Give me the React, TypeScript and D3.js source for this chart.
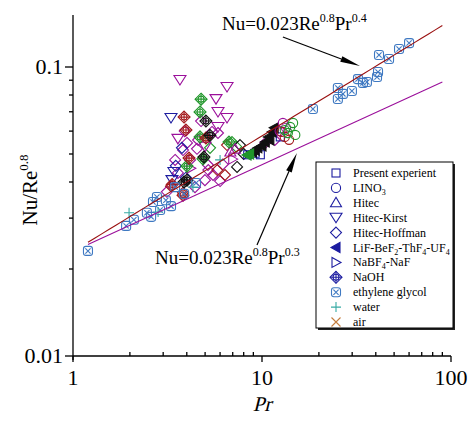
import React from "react";
import * as d3 from "d3";

// Pr, Nu/Re^0.8
const presentExp = [[8.4, 0.0497], [9.2, 0.0503], [9.8, 0.0497], [12.5, 0.0573]];
const lino3Green = [[14.6, 0.064], [13.7, 0.0591], [15.0, 0.0582], [14.1, 0.062], [13.2, 0.0605]];
const lino3Purple = [[12.9, 0.064], [13.4, 0.0616], [12.4, 0.06]];
const lino3Red = [[13.2, 0.0573], [12.7, 0.0596], [13.9, 0.056]];
const hitecPurple = [[6.8, 0.0508], [7.2, 0.052]];
const kirstPurple = [[3.68, 0.0902], [6.53, 0.0853], [5.71, 0.0774], [5.85, 0.0699], [6.53, 0.0666], [5.85, 0.062], [3.59, 0.0564], [5.0, 0.053]];
const kirstBlue = [[3.3, 0.0666], [3.42, 0.0433], [3.34, 0.0406]];
const hoffmanPurple = [
  [4.76, 0.065], [5.44, 0.0596], [5.85, 0.0591], [4.01, 0.0546], [4.53, 0.0521], [3.82, 0.0516],
  [3.59, 0.043], [3.14, 0.037], [4.99, 0.0406], [5.51, 0.0423], [4.42, 0.0384], [6.0, 0.0403],
  [4.16, 0.0477], [3.47, 0.0477], [5.18, 0.0458], [4.59, 0.0559], [10.4, 0.0546], [11.7, 0.0559],
  [5.2, 0.044], [6.2, 0.046], [3.9, 0.06],
];
const hoffmanBlue = [[3.77, 0.0525], [3.96, 0.0414], [3.5, 0.0455]];
const hoffmanBlack = [[7.65, 0.0537], [7.38, 0.0451], [8.0, 0.05]];
const hoffmanGreen = [[6.94, 0.055], [5.31, 0.0525], [7.3, 0.053]];
const hoffmanRed = [[3.3, 0.0387], [3.82, 0.0367], [6.37, 0.0423], [6.53, 0.0537], [5.8, 0.044]];
const lifBlack = [[8.9, 0.0508], [9.5, 0.0525], [10.0, 0.0533], [10.4, 0.055], [10.8, 0.0573], [11.3, 0.0596], [11.6, 0.0616], [11.0, 0.0559], [9.2, 0.0515]];
const lifGreen = [[8.33, 0.0496], [8.6, 0.05]];
const nabfPurple = [[4.2, 0.0446], [7.0, 0.048]];
const naohGreen = [[4.76, 0.0774], [4.7, 0.0699], [4.7, 0.0573], [4.01, 0.0454], [4.87, 0.0481], [6.69, 0.055]];
const naohRed = [[3.87, 0.0671], [3.96, 0.0605], [5.05, 0.0568], [4.11, 0.0484], [3.82, 0.036], [3.35, 0.0392]];
const naohBlack = [[5.05, 0.065], [4.93, 0.0488], [3.87, 0.04], [4.01, 0.0406], [5.3, 0.058]];
const ethyleneGlycol = [
  [1.2, 0.0231], [1.91, 0.0282], [2.1, 0.0296], [2.46, 0.0313], [2.59, 0.0303], [2.65, 0.0341],
  [2.78, 0.0355], [2.89, 0.032], [3.1, 0.0346], [3.3, 0.033], [3.47, 0.0384], [3.87, 0.0364],
  [4.48, 0.0397], [18.6, 0.0716], [25.2, 0.0846], [25.2, 0.0775], [26.8, 0.0807], [29.9, 0.0826],
  [32.2, 0.0908], [34.2, 0.0881], [35.9, 0.0887], [40.6, 0.0923], [41.1, 0.0961], [41.6, 0.11],
  [47.0, 0.1066], [53.1, 0.1154], [60.0, 0.121],
];
const water = [[1.98, 0.0313], [2.82, 0.0315], [4.31, 0.0384], [6.0, 0.0477]];

const legendLabels = [
  "Present experient", "LINO_3", "Hitec", "Hitec-Kirst", "Hitec-Hoffman", "LiF-BeF_2-ThF_4-UF_4",
  "NaBF_4-NaF", "NaOH", "ethylene glycol", "water", "air",
];
const legendShapes = ["square", "circle", "triUp", "triDown", "diamond", "triLeft", "triRight", "diamondCross", "circleX", "plus", "cross"];

const xMajor = [1, 10, 100];
const yMajor = [0.01, 0.1];
const xMinor = [2, 3, 4, 5, 6, 7, 8, 9, 20, 30, 40, 50, 60, 70, 80, 90];
const yMinor = [0.02, 0.03, 0.04, 0.05, 0.06, 0.07, 0.08, 0.09];
const corrPr = [1.2, 90];

const PURPLE = "#9b109b";
const GREEN = "#20962a";
const RED = "#a3191c";
const BLACK = "#111";
const NAVY = "#1c1ca0";
const LBLUE = "#3f79c2";
const TEAL = "#36aaa4";
const ORANGE = "#c47c3c";

const groups = [
  { data: hoffmanPurple, shape: "diamond", color: PURPLE },
  { data: hoffmanBlue, shape: "diamond", color: NAVY },
  { data: hoffmanRed, shape: "diamond", color: RED },
  { data: hoffmanGreen, shape: "diamond", color: GREEN },
  { data: hoffmanBlack, shape: "diamond", color: BLACK },
  { data: kirstPurple, shape: "triDown", color: PURPLE },
  { data: kirstBlue, shape: "triDown", color: NAVY },
  { data: hitecPurple, shape: "triUp", color: PURPLE },
  { data: nabfPurple, shape: "triRight", color: PURPLE },
  { data: naohGreen, shape: "diamondCross", color: GREEN },
  { data: naohRed, shape: "diamondCross", color: RED },
  { data: naohBlack, shape: "diamondCross", color: BLACK },
  { data: ethyleneGlycol, shape: "circleX", color: LBLUE },
  { data: water, shape: "plus", color: TEAL },
  { data: presentExp, shape: "square", color: NAVY },
  { data: lifBlack, shape: "triLeft", color: BLACK },
  { data: lifGreen, shape: "triLeft", color: GREEN },
  { data: lino3Purple, shape: "circle", color: PURPLE },
  { data: lino3Red, shape: "circle", color: RED },
  { data: lino3Green, shape: "circle", color: GREEN },
];

const FONT = "Liberation Serif";

function Marker({ shape, color, x, y }: { shape: string; color: string; x: number; y: number }) {
  const p = { stroke: color, strokeWidth: 1.1, fill: "none" };
  const t = `translate(${x},${y})`;
  switch (shape) {
    case "square":
      return <rect transform={t} x={-4} y={-4} width={8} height={8} {...p} />;
    case "circle":
      return <circle transform={t} r={4.6} {...p} />;
    case "triUp":
      return <polygon transform={t} points="0,-5.5 5.5,4 -5.5,4" {...p} />;
    case "triDown":
      return <polygon transform={t} points="0,5 6,-4.5 -6,-4.5" {...p} />;
    case "diamond":
      return <polygon transform={t} points="0,-5.5 5.5,0 0,5.5 -5.5,0" {...p} />;
    case "triLeft":
      return <polygon transform={t} points="-5,0 4,-5 4,5" {...p} fill={color} />;
    case "triRight":
      return <polygon transform={t} points="5,0 -4,-5 -4,5" {...p} />;
    case "diamondCross":
      return (
        <g transform={t} {...p}>
          <polygon points="0,-6 6,0 0,6 -6,0" />
          <circle r={3} />
          <path d="M0,-6V6M-6,0H6" />
        </g>
      );
    case "circleX":
      return (
        <g transform={t} {...p}>
          <rect x={-4.5} y={-4.5} width={9} height={9} rx={2.5} />
          <path d="M-2.6,-2.6L2.6,2.6M-2.6,2.6L2.6,-2.6" />
        </g>
      );
    case "plus":
      return <path transform={t} d="M0,-5V5M-5,0H5" {...p} />;
    case "cross":
      return <path transform={t} d="M-4.5,-4.5L4.5,4.5M-4.5,4.5L4.5,-4.5" {...p} />;
  }
  return null;
}

function Sub({ label }: { label: string }) {
  const parts = label.split(/_(\d)/);
  return (
    <>
      {parts.map((s, i) =>
        i % 2 === 1 ? (
          <tspan key={i} dy={3} fontSize={8}>{s}</tspan>
        ) : (
          <tspan key={i} dy={i === 0 ? 0 : -3}>{s}</tspan>
        )
      )}
    </>
  );
}

function Arrow({ x1, y1, x2, y2 }: { x1: number; y1: number; x2: number; y2: number }) {
  const len = Math.hypot(x2 - x1, y2 - y1);
  const ux = (x2 - x1) / len;
  const uy = (y2 - y1) / len;
  const hl = 20;
  const hw = 3;
  const bx = x2 - ux * hl;
  const by = y2 - uy * hl;
  const pts = `${x2},${y2} ${bx - uy * hw},${by + ux * hw} ${bx + uy * hw},${by - ux * hw}`;
  return (
    <g>
      <line x1={x1} y1={y1} x2={bx} y2={by} stroke="#000" strokeWidth={1.2} />
      <polygon points={pts} fill="#000" />
    </g>
  );
}

export default function App() {
  const width = 472;
  const height = 426;
  const x = d3.scaleLog().domain([1, 100]).range([73, 451]);
  const y = d3.scaleLog().domain([0.01, 0.1]).range([356, 67]);
  const yTop = y.invert(15);

  const prs = d3.range(0, 51).map((i) => corrPr[0] * Math.pow(corrPr[1] / corrPr[0], i / 50));
  const pr04 = d3.line<number>().x((d) => x(d)).y((d) => y(0.023 * Math.pow(d, 0.4)))(prs) as string;
  const pr03 = d3.line<number>().x((d) => x(d)).y((d) => y(0.023 * Math.pow(d, 0.3)))(prs) as string;

  const legendX = 316;
  const legendY = 162;
  const legendW = 137;
  const legendH = 166;

  return (
    <svg
      width={width}
      height={height}
      style={{ position: "absolute", left: 0, top: 0, background: "#fff", fontFamily: FONT }}
    >
      {/* markers */}
      {groups.map((g, gi) =>
        g.data.map((d, i) => (
          <Marker key={`${gi}-${i}`} shape={g.shape} color={g.color} x={x(d[0])} y={y(d[1])} />
        ))
      )}

      {/* correlations */}
      <path d={pr04} stroke="#9a1010" strokeWidth={1.1} fill="none" />
      <path d={pr03} stroke={PURPLE} strokeWidth={1.1} fill="none" />

      {/* axes */}
      <g stroke="#000" strokeWidth={1.3}>
        <line x1={x(1)} x2={x(100)} y1={y(0.01)} y2={y(0.01)} />
        <line x1={x(1)} x2={x(1)} y1={y(yTop)} y2={y(0.01) + 4} />
        {xMajor.map((v) => (
          <line key={v} x1={x(v)} x2={x(v)} y1={y(0.01)} y2={y(0.01) + 6} />
        ))}
        {xMinor.map((v) => (
          <line key={v} x1={x(v)} x2={x(v)} y1={y(0.01)} y2={y(0.01) - 4} />
        ))}
        {yMajor.map((v) => (
          <line key={v} x1={x(1) - 8} x2={x(1)} y1={y(v)} y2={y(v)} />
        ))}
        {yMinor.map((v) => (
          <line key={v} x1={x(1) - 4} x2={x(1)} y1={y(v)} y2={y(v)} />
        ))}
      </g>
      {xMajor.map((v) => (
        <text key={v} x={x(v)} y={y(0.01) + 29} fontSize={22} textAnchor="middle" fontFamily={FONT}>
          {v}
        </text>
      ))}
      {yMajor.map((v) => (
        <text key={v} x={x(1) - 10} y={y(v) + 7} fontSize={22} textAnchor="end" fontFamily={FONT}>
          {v}
        </text>
      ))}
      <text
        transform={`translate(${x(10)},411) skewX(-14)`}
        fontSize={21}
        textAnchor="middle"
        fontFamily={FONT}
      >
        Pr
      </text>
      <text transform="translate(37,190) rotate(-90)" fontSize={21} textAnchor="middle" fontFamily={FONT}>
        Nu/Re<tspan dy={-9} fontSize={13}>0.8</tspan>
      </text>

      {/* annotations */}
      <text x={222} y={30} fontSize={19} fontFamily={FONT}>
        Nu=0.023Re<tspan dy={-8} fontSize={12}>0.8</tspan>
        <tspan dy={8}>Pr</tspan>
        <tspan dy={-8} fontSize={12}>0.4</tspan>
      </text>
      <Arrow x1={x(12.9)} y1={y(0.127)} x2={x(33)} y2={y(0.1008)} />
      <text x={155} y={264} fontSize={19} fontFamily={FONT}>
        Nu=0.023Re<tspan dy={-8} fontSize={12}>0.8</tspan>
        <tspan dy={8}>Pr</tspan>
        <tspan dy={-8} fontSize={12}>0.3</tspan>
      </text>
      <Arrow x1={x(9.41)} y1={y(0.0242)} x2={x(15.3)} y2={y(0.0504)} />

      {/* legend */}
      <rect x={legendX + 2} y={legendY + 2} width={legendW} height={legendH} fill="#222" />
      <rect x={legendX} y={legendY} width={legendW} height={legendH} fill="#fff" stroke="#000" strokeWidth={1} />
      {legendLabels.map((lab, i) => {
        const ly = legendY + 11 + i * 14.9;
        const c = lab === "ethylene glycol" ? LBLUE : lab === "water" ? TEAL : lab === "air" ? ORANGE : NAVY;
        return (
          <g key={lab}>
            <Marker shape={legendShapes[i]} color={c} x={legendX + 20} y={ly} />
            <text x={legendX + 37} y={ly + 4} fontSize={12} fontFamily={FONT}>
              <Sub label={lab} />
            </text>
          </g>
        );
      })}
    </svg>
  );
}
